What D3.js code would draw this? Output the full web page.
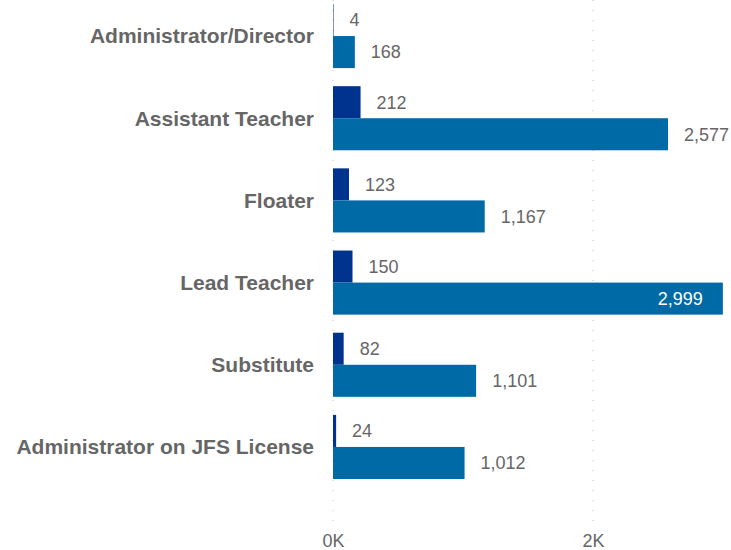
<!DOCTYPE html>
<html>
<head>
<meta charset="utf-8">
<script src="https://cdn.jsdelivr.net/npm/d3@7"></script>
<style>
  body { margin: 0; background: #fff; }
  svg text { font-family: "Liberation Sans", Arial, sans-serif; }
</style>
</head>
<body>
<div id="chart"></div>
<script>
// data
var categories = ["Administrator/Director", "Assistant Teacher", "Floater", "Lead Teacher", "Substitute", "Administrator on JFS License"];
var seriesA = [4, 212, 123, 150, 82, 24];
var seriesB = [168, 2577, 1167, 2999, 1101, 1012];
var ticks = [0, 2000];

var width = 731, height = 550;

var svg = d3.select("#chart")
    .append("svg")
    .attr("width", width)
    .attr("height", height);

var x = d3.scaleLinear()
    .domain([0, 2000])
    .range([333, 593]);

var y = d3.scaleBand()
    .domain(categories)
    .range([4, 479])
    .paddingInner(0.22)
    .paddingOuter(0);

var sub = d3.scaleBand()
    .domain(["a", "b"])
    .range([0, y.bandwidth()]);

// dotted gridlines
svg.selectAll("line.grid")
    .data(ticks)
    .enter().append("line")
    .attr("class", "grid")
    .attr("x1", function (d) { return x(d); })
    .attr("x2", function (d) { return x(d); })
    .attr("y1", 0)
    .attr("y2", 525)
    .attr("stroke", "#c0c0c0")
    .attr("stroke-width", 1)
    .attr("stroke-dasharray", "1,9");

// x axis labels
var xAxis = svg.append("g")
    .attr("transform", "translate(0,547)")
    .call(d3.axisBottom(x).tickValues(ticks).tickSize(0).tickFormat(function (d) { return (d / 1000) + "K"; }));
xAxis.select(".domain").remove();
xAxis.selectAll("text")
    .attr("dy", 0)
    .attr("y", 0)
    .style("font-size", "18px")
    .style("font-family", "Liberation Sans, Arial, sans-serif")
    .attr("fill", "#666");

// category labels
svg.selectAll("text.cat")
    .data(categories)
    .enter().append("text")
    .attr("class", "cat")
    .attr("x", 314)
    .attr("y", function (d) { return y(d) + y.bandwidth() / 2; })
    .attr("dy", "0.35em")
    .attr("text-anchor", "end")
    .style("font-size", "21px")
    .style("font-weight", "bold")
    .attr("fill", "#666")
    .text(function (d) { return d; });

var fmt = d3.format(",");

// bars
function drawSeries(vals, key, color) {
    var g = svg.append("g");
    g.selectAll("rect")
        .data(vals)
        .enter().append("rect")
        .attr("x", x(0))
        .attr("y", function (d, i) { return y(categories[i]) + sub(key); })
        .attr("width", function (d) { return x(d) - x(0); })
        .attr("height", sub.bandwidth())
        .attr("fill", color);

    g.selectAll("text")
        .data(vals)
        .enter().append("text")
        .attr("x", function (d) { return x(d) > 700 ? x(d) - 20 : x(d) + 16; })
        .attr("y", function (d, i) { return y(categories[i]) + sub(key) + sub.bandwidth() / 2; })
        .attr("dy", "0.35em")
        .attr("text-anchor", function (d) { return x(d) > 700 ? "end" : "start"; })
        .style("font-size", "18px")
        .attr("fill", function (d) { return x(d) > 700 ? "#fff" : "#666"; })
        .text(function (d) { return fmt(d); });
}

drawSeries(seriesA, "a", "#00338d");
drawSeries(seriesB, "b", "#006aa7");
</script>
</body>
</html>
